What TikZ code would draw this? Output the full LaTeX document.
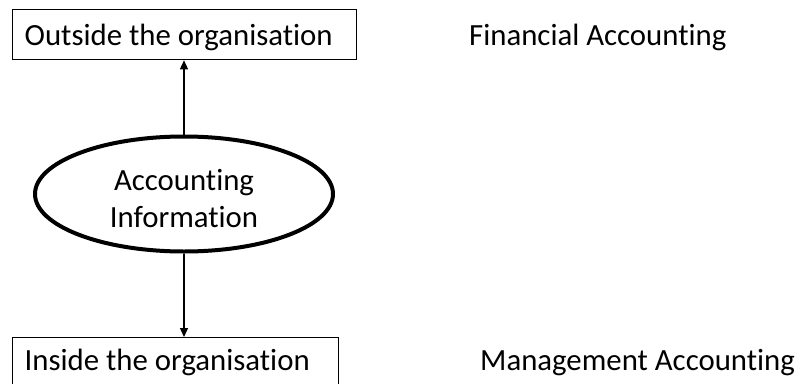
\documentclass[tikz,border=0pt]{standalone}
\usepackage{fontspec}
\setmainfont{Carlito}[Ligatures={NoCommon,TeX}]
\usetikzlibrary{shapes.geometric,arrows.meta}
\newcommand\natsp{\spaceskip=0pt\xspaceskip=0pt\relax}
\begin{document}
\begin{tikzpicture}[x=1pt,y=-1pt,
  every node/.style={font=\fontsize{30.8}{37}\selectfont},
  box/.style={draw,line width=1.3pt,inner sep=0pt,text width=#1,align=left,anchor=north west},
  oval/.style={draw,ellipse,line width=4pt,inner sep=0pt,minimum width=298pt,minimum height=115pt,align=center},
  lbl/.style={inner sep=0pt,anchor=base west},
  conn/.style={line width=1.3pt,-{Triangle[length=9pt,width=8pt]}}]
\useasboundingbox (0,0) rectangle (798,383);
\clip (0,0) rectangle (798,383);
\node[box=344pt] (out) at (12,9) {\natsp\rule[-14pt]{0pt}{50pt}\hspace*{12pt}Outside the organisation};
\node[box=326pt] (in) at (12,337) {\natsp\rule[-27pt]{0pt}{60pt}\hspace*{12pt}Inside the organisation};
\node[oval] (info) at (184,194) {\rule{0pt}{31pt}Accounting\\Information};
\node[lbl] (fin) at (469,45) {Financial Accounting};
\node[lbl] (man) at (480,370) {Management Accounting};
\draw[conn] (info.north) -- (info.north |- out.south);
\draw[conn] (info.south) -- (info.south |- in.north);
\end{tikzpicture}
\end{document}
